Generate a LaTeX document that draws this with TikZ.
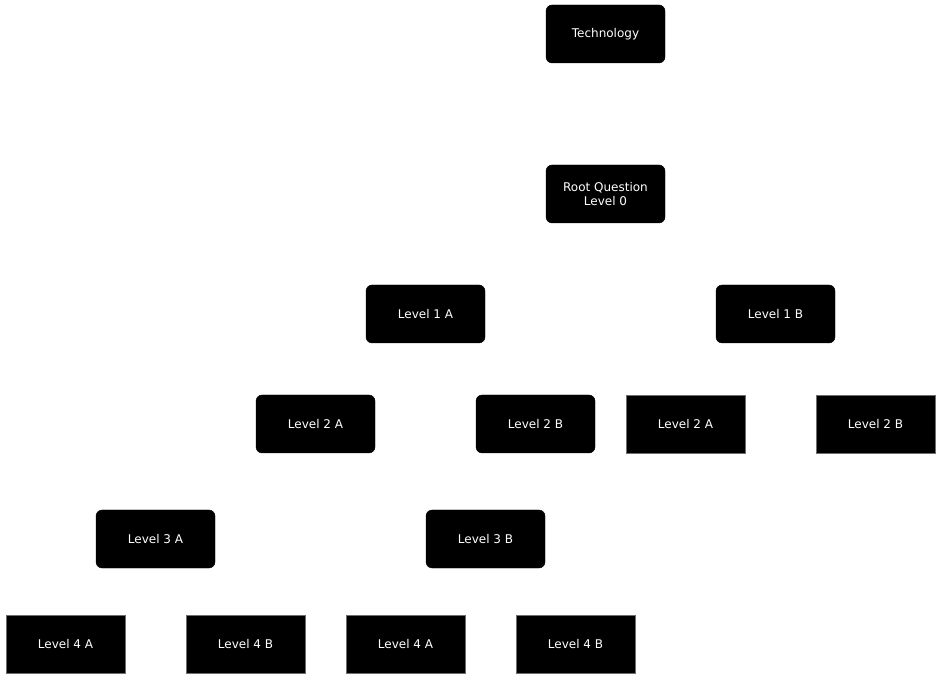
\documentclass[tikz,border=0pt]{standalone}
\usepackage{fontspec}
\setmainfont{DejaVu Sans}
\usetikzlibrary{positioning}
\definecolor{EdgeGrey}{HTML}{6E6E6E}

\begin{document}
\begin{tikzpicture}[
  x=1pt, y=-1pt,
  qbox/.style={fill=black, draw=black, rounded corners=6pt, minimum width=119pt, minimum height=58pt, align=center, text=white, font=\fontsize{12}{14.5}\selectfont, inner sep=0pt},
  sqbox/.style={qbox, rounded corners=0pt, draw=EdgeGrey, line width=0.8pt}
]
  \useasboundingbox (0,0) rectangle (943,684);
  \node[qbox] (tech) at (605.5,34) {Technology};
  \node[qbox, below=101.6pt of tech] (root) {Root Question\\Level 0};
  \node[qbox] (l1a) at (425.5,314) {Level 1 A};
  \node[qbox] (l1b) at (775.5,314) {Level 1 B};
  \node[qbox] (l2a) at (315.5,424) {Level 2 A};
  \node[qbox, right=100.6pt of l2a] (l2b) {Level 2 B};
  \node[sqbox, right=30.4pt of l2b] (l2c) {Level 2 A};
  \node[sqbox, right=70.2pt of l2c] (l2d) {Level 2 B};
  \node[qbox] (l3a) at (155.5,539) {Level 3 A};
  \node[qbox] (l3b) at (485.5,539) {Level 3 B};
  \node[sqbox] (l4a) at (65.5,644) {Level 4 A};
  \node[sqbox, right=60.2pt of l4a] (l4b) {Level 4 B};
  \node[sqbox, right=40.2pt of l4b] (l4c) {Level 4 A};
  \node[sqbox, right=50.2pt of l4c] (l4d) {Level 4 B};
\end{tikzpicture}
\end{document}
